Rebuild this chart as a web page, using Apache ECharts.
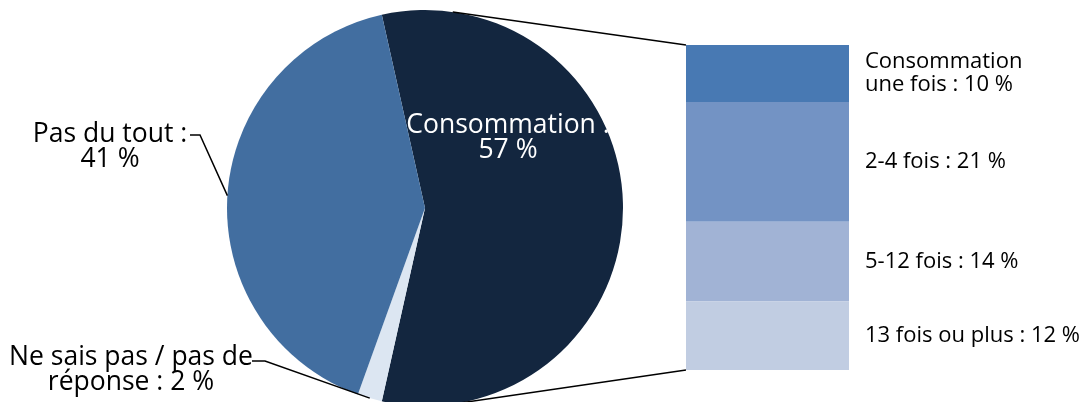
<!DOCTYPE html>
<html><head><meta charset="utf-8">
<script src="https://cdn.jsdelivr.net/npm/echarts@6/dist/echarts.min.js"></script>
<style>html,body{margin:0;padding:0;background:#fff}#c{width:1085px;height:402px}</style>
</head><body><div id="c"></div>
<script>
// ---- data ----
const pieCategories = ['Consommation', 'Ne sais pas / pas de réponse', 'Pas du tout'];
const pieValues = [57, 2, 41];
const pieLabels = ['Consommation :\n57 %', 'Ne sais pas / pas de\nréponse : 2 %', 'Pas du tout :\n41 %'];
const barCategories = ['Consommation une fois', '2-4 fois', '5-12 fois', '13 fois ou plus'];
const barValues = [10, 21, 14, 12];
const barLabels = ['Consommation\nune fois : 10 %', '2-4 fois : 21 %', '5-12 fois : 14 %', '13 fois ou plus : 12 %'];

// ---- styles / layout ----
const FONT = '"Open Sans", "Noto Sans", sans-serif';
const pieColors = ['#13263f', '#dce6f2', '#426ea0'];
const pieTextColors = ['#fff', '#000', '#000'];
const barColors = ['#4879b3', '#7393c4', '#a1b3d5', '#c1cde2'];
const CX = 425, CY = 208, R = 198;
const GRID = {left: 686, top: 45, width: 163, height: 325};
const labelPos = [
  {x: 508, y: 138},
  {x: 131, y: 370},
  {x: 110, y: 147}
];

const total = pieValues.reduce((a, b) => a + b, 0);
const startAngle = 360 * pieValues[0] / total / 2;
function midAngle(i) {
  let acc = 0;
  for (let k = 0; k < i; k++) acc += pieValues[k];
  const a = startAngle - 360 * (acc + pieValues[i] / 2) / total;
  return a * Math.PI / 180;
}
function anchor(i) {
  const a = midAngle(i);
  return [CX + R * Math.cos(a), CY - R * Math.sin(a)];
}
function tangent(px, py, sign) {
  const dx = px - CX, dy = py - CY;
  const d = Math.hypot(dx, dy);
  const th = Math.atan2(dy, dx) + sign * Math.acos(R / d);
  return [CX + R * Math.cos(th), CY + R * Math.sin(th)];
}

const barSum = barValues.reduce((a, b) => a + b, 0);
const chart = echarts.init(document.getElementById('c'), null, {renderer: 'canvas'});

const topT = tangent(GRID.left, GRID.top, -1);
const botT = tangent(GRID.left, GRID.top + GRID.height, 1);
const a1 = anchor(1), a2 = anchor(2);

chart.setOption({
  backgroundColor: '#fff',
  animation: false,
  grid: {left: GRID.left, top: GRID.top, width: GRID.width, height: GRID.height},
  xAxis: {type: 'category', data: ['Consommation'], show: false},
  yAxis: {type: 'value', min: 0, max: barSum, inverse: true, show: false},
  series: [
    {
      type: 'pie',
      center: [CX, CY],
      radius: R,
      startAngle: startAngle,
      clockwise: true,
      silent: true,
      avoidLabelOverlap: false,
      data: pieCategories.map((n, i) => ({
        name: n, value: pieValues[i],
        itemStyle: {color: pieColors[i]},
        label: {color: pieTextColors[i]}
      })),
      itemStyle: {borderWidth: 0},
      label: {
        show: true,
        position: 'outside',
        formatter: p => pieLabels[p.dataIndex],
        fontFamily: FONT,
        fontSize: 26.5,
        lineHeight: 25,
        align: 'center'
      },
      labelLine: {show: false},
      labelLayout: p => ({x: labelPos[p.dataIndex].x, y: labelPos[p.dataIndex].y, align: 'center', verticalAlign: 'middle'}),
      emphasis: {disabled: true}
    }
  ].concat(barValues.map((v, i) => ({
    type: 'bar',
    name: barCategories[i],
    stack: 'conso',
    barWidth: '100%',
    silent: true,
    data: [v],
    itemStyle: {color: barColors[i]},
    label: {
      show: true,
      position: 'right',
      distance: 16,
      formatter: () => barLabels[i],
      fontFamily: FONT,
      fontSize: 22,
      lineHeight: 23,
      color: '#000',
      align: 'left'
    }
  }))),
  graphic: [
    {type: 'line', z: 100, shape: {x1: topT[0], y1: topT[1], x2: GRID.left, y2: GRID.top}, style: {stroke: '#000', lineWidth: 1.5}},
    {type: 'line', z: 100, shape: {x1: botT[0], y1: botT[1], x2: GRID.left, y2: GRID.top + GRID.height}, style: {stroke: '#000', lineWidth: 1.5}},
    {type: 'polyline', z: 100, shape: {points: [[190, 135], [200, 135], a2]}, style: {stroke: '#000', lineWidth: 1.5, fill: null}},
    {type: 'polyline', z: 100, shape: {points: [[252, 361], [265, 361], a1]}, style: {stroke: '#000', lineWidth: 1.5, fill: null}}
  ]
});
</script>
</body></html>
